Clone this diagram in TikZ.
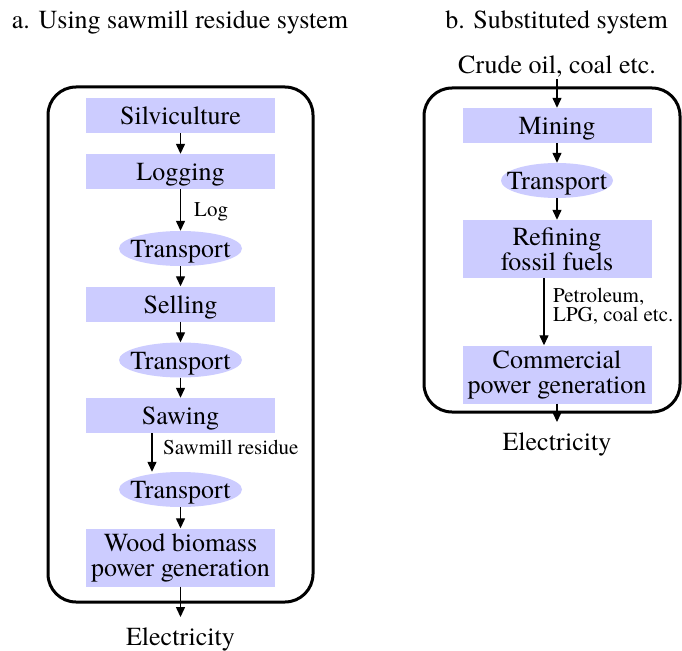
\documentclass[tikz,border=0pt]{standalone}
\usepackage{fontspec}
\setmainfont{texgyretermes}[Extension=.otf, UprightFont=*-regular, BoldFont=*-bold, ItalicFont=*-italic, BoldItalicFont=*-bolditalic]
\usetikzlibrary{shapes.geometric,arrows.meta}
\definecolor{stagefill}{HTML}{CCCCFF}

\begin{document}
\begin{tikzpicture}[x=1pt,y=-1pt,
  stage/.style={fill=stagefill, draw=none, minimum width=189pt, inner sep=0pt,
    font=\fontsize{26}{25}\selectfont, align=center},
  single/.style={minimum height=35pt, text height=18pt, text depth=0pt},
  double/.style={minimum height=58pt},
  haul/.style={ellipse, fill=stagefill, draw=none, minimum width=123pt, minimum height=35pt,
    inner sep=0pt, text height=18pt, text depth=0pt, font=\fontsize{26}{25}\selectfont},
  flow/.style={line width=1.3pt, -{Triangle[length=10pt,width=9pt]}},
  frame/.style={line width=3pt, rounded corners=28pt},
  caption/.style={font=\fontsize{26}{30}\selectfont, inner sep=0pt, anchor=base},
  note/.style={font=\fontsize{21}{19}\selectfont, inner sep=0pt, align=left},
]
\useasboundingbox (0,0) rectangle (682,650);

% headings
\node[caption] (titleA) at (180,29) {a. Using sawmill residue system};
\node[caption] (titleB) at (556.5,29) {b. Substituted system};

% system boundaries
\draw[frame] (48,87) rectangle (313,602);
\draw[frame] (424,88) rectangle (680,412);

% (a) sawmill residue chain
\node[stage,single] (silv) at (180.5,115.5) {Silviculture};
\node[stage,single] (logg) at (180.5,171.5) {Logging};
\node[haul] (trA) at (180.5,248.5) {\makebox[0pt]{Transport}};
\node[stage,single] (sell) at (180.5,304) {Selling};
\node[haul] (trB) at (180.5,360) {\makebox[0pt]{Transport}};
\node[stage,single] (saw) at (180.5,415.5) {Sawing};
\node[haul] (trC) at (180.5,489.5) {\makebox[0pt]{Transport}};
\node[stage,double] (wood) at (180.5,557.5) {Wood biomass\\power generation};
\node[caption, inner ysep=10pt] (elecA) at (180.5,645) {Electricity};

\node[note, anchor=base west] (logLbl) at (194,216) {Log};
\node[note, anchor=base west] (resLbl) at (163,454) {Sawmill residue};

\draw[flow] (silv) -- (logg);
\draw[flow] (logg) -- (trA);
\draw[flow] (trA) -- (sell);
\draw[flow] (sell) -- (trB);
\draw[flow] (trB) -- (saw);
\draw[flow] ([xshift=-28.5pt]saw.south) -- ([xshift=-28.5pt]trC.north);
\draw[flow] (trC) -- (wood);
\draw[flow] (wood) -- (elecA);

% (b) fossil fuel chain
\node[caption, inner ysep=2pt] (crude) at (557,73.5) {Crude oil, coal etc.};
\node[stage,single] (mine) at (557,125.5) {Mining};
\node[haul, minimum width=112pt] (trD) at (557,180.5) {\makebox[0pt]{Transport}};
\node[stage,double] (refi) at (557,249) {Refining\\fossil fuels};
\node[stage,double] (comm) at (557,374.5) {Commercial\\power generation};
\node[caption, inner ysep=10pt] (elecB) at (557,450) {Electricity};

\node[note, anchor=north west] (fuelLbl) at (553,287.7) {Petroleum,\\LPG, coal etc.};

\draw[flow] (crude) -- (mine);
\draw[flow] (mine) -- (trD);
\draw[flow] (trD) -- (refi);
\draw[flow] ([xshift=-13pt]refi.south) -- ([xshift=-13pt]comm.north);
\draw[flow] (comm) -- (elecB);
\end{tikzpicture}
\end{document}
